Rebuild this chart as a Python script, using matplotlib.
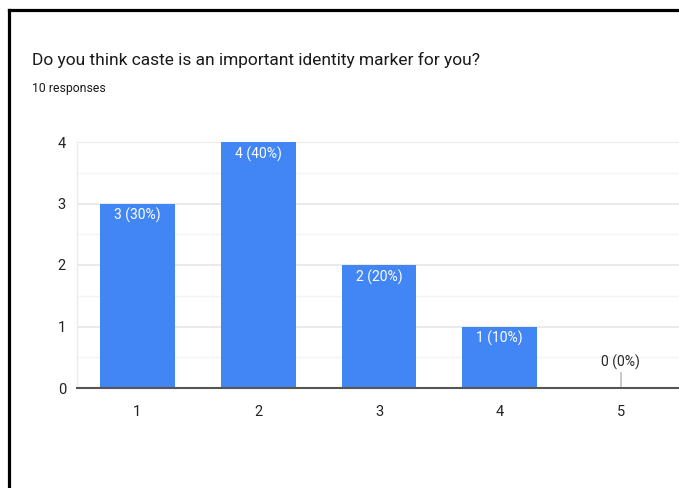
import matplotlib
matplotlib.use("Agg")
import matplotlib.pyplot as plt
from matplotlib.lines import Line2D

# Survey results
categories = [1, 2, 3, 4, 5]
counts = [3, 4, 2, 1, 0]
total_responses = 10
title = "Do you think caste is an important identity marker for you?"
subtitle = f"{total_responses} responses"
y_ticks = [0, 1, 2, 3, 4]

BAR = "#4285F4"
plt.rcParams["font.family"] = ["Roboto", "DejaVu Sans"]

W, H = 679, 488
fig = plt.figure(figsize=(W / 100, H / 100), dpi=100)
fig.patch.set_facecolor("white")

# Plot area in pixel coordinates: left 77, right 681, top 142, bottom 388
left, right, top, bottom = 77, 681, 142, 388
ax = fig.add_axes([left / W, 1 - bottom / H, (right - left) / W, (bottom - top) / H])
ax.set_facecolor("white")

ax.bar(categories, counts, width=0.62, color=BAR, zorder=3)

# Value labels; a short stem marks zero-count answers
for c, v in zip(categories, counts):
    pct = round(100 * v / total_responses)
    label = f"{v} ({pct}%)"
    if v == 0:
        ax.plot([c, c], [0, 0.25], color="#c4c4c4", lw=1.3, zorder=3)
        ax.text(c, 0.29, label, ha="center", va="bottom", color="#262626", fontsize=10)
    else:
        ax.text(c, v - 0.07, label, ha="center", va="top", color="white", fontsize=10, zorder=4)

ax.set_xlim(0.5, 5.5)
ax.set_ylim(0, 4)
ax.set_xticks(categories)
ax.set_xticklabels([str(c) for c in categories])
ax.set_yticks(y_ticks)
ax.set_yticks([0.5, 1.5, 2.5, 3.5], minor=True)
ax.grid(axis="y", which="major", color="#e8e8e8", lw=1.3, zorder=0)
ax.grid(axis="y", which="minor", color="#f3f3f3", lw=1.0, zorder=0)
ax.tick_params(axis="both", which="both", length=0, labelsize=10.5, colors="#222222")
ax.tick_params(axis="y", pad=8)
ax.tick_params(axis="x", pad=12)
for s in ["top", "right"]:
    ax.spines[s].set_visible(False)
ax.spines["left"].set_color("#ececec")
ax.spines["left"].set_linewidth(1.0)
ax.spines["bottom"].set_color("#555555")
ax.spines["bottom"].set_linewidth(1.5)
ax.spines["bottom"].set_zorder(5)

fig.text(32 / W, 1 - 65 / H, title, ha="left", va="baseline", fontsize=12.5, color="#1a1a1a")
fig.text(32 / W, 1 - 92 / H, subtitle, ha="left", va="baseline", fontsize=8.8, color="#1a1a1a")

# Card frame
fig.add_artist(Line2D([8.5 / W, 8.5 / W], [0, 1 - 10 / H], transform=fig.transFigure, color="black", lw=2.3))
fig.add_artist(Line2D([8.5 / W, 1], [1 - 10 / H, 1 - 10 / H], transform=fig.transFigure, color="black", lw=2.3))

fig.savefig("out.png", dpi=100, facecolor="white")
